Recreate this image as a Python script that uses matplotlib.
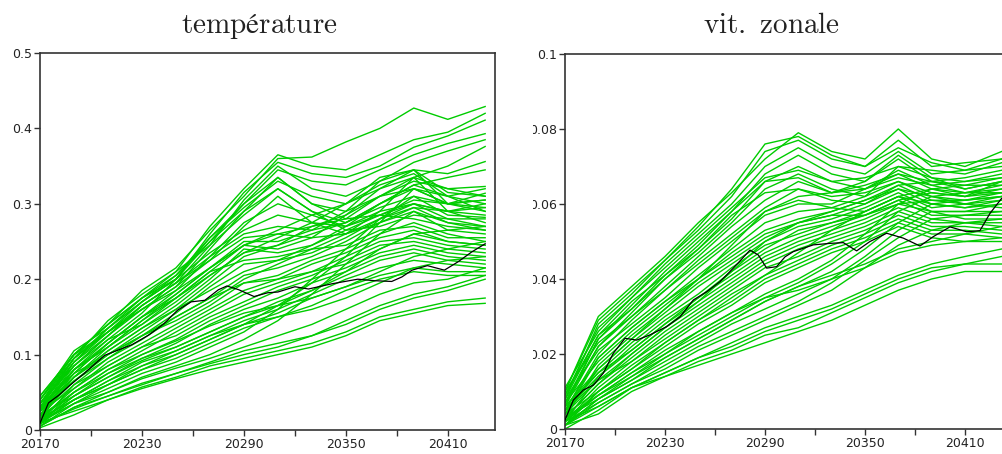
import matplotlib
matplotlib.use('Agg')
import matplotlib.pyplot as plt
from matplotlib.transforms import Bbox, TransformedBbox

plt.rcParams['mathtext.fontset'] = 'cm'
plt.rcParams['font.family'] = ['DejaVu Sans']

# ---------------- data ----------------
t_grid = [20170, 20190, 20210, 20230, 20250, 20270, 20290, 20310,
          20330, 20350, 20370, 20390, 20410, 20432]

x_major = [20170, 20230, 20290, 20350, 20410]
x_minor = [20200, 20260, 20320, 20380]

temp_yticks = [0.0, 0.1, 0.2, 0.3, 0.4, 0.5]
temp_ylabels = ['0', '0.1', '0.2', '0.3', '0.4', '0.5']
zonal_yticks = [0.0, 0.02, 0.04, 0.06, 0.08, 0.1]
zonal_ylabels = ['0', '0.02', '0.04', '0.06', '0.08', '0.1']

# ensemble members, temperature panel (values at t_grid)
temp_members = [
    [.035, .100, .140, .185, .215, .265, .310, .360, .362, .382, .400, .427, .412, .429],
    [.030, .095, .145, .180, .210, .270, .320, .365, .350, .345, .365, .385, .395, .420],
    [.040, .105, .135, .175, .200, .260, .315, .355, .340, .335, .350, .375, .390, .411],
    [.025, .090, .130, .170, .205, .250, .300, .345, .330, .325, .345, .365, .380, .393],
    [.035, .085, .125, .165, .195, .245, .305, .350, .320, .310, .330, .355, .370, .385],
    [.030, .095, .130, .160, .190, .240, .290, .335, .300, .290, .310, .335, .350, .376],
    [.020, .080, .120, .155, .200, .255, .295, .330, .310, .300, .320, .345, .340, .356],
    [.045, .100, .140, .175, .210, .245, .285, .320, .290, .275, .300, .325, .335, .345],
    [.030, .075, .115, .150, .185, .230, .275, .300, .285, .270, .290, .335, .320, .323],
    [.025, .085, .125, .165, .195, .225, .270, .310, .275, .260, .280, .310, .300, .314],
    [.030, .080, .110, .145, .180, .215, .250, .250, .265, .290, .330, .345, .300, .305],
    [.020, .075, .115, .150, .175, .210, .245, .240, .255, .285, .320, .335, .290, .300],
    [.035, .085, .120, .140, .170, .205, .235, .245, .270, .280, .310, .320, .300, .295],
    [.015, .070, .105, .135, .165, .200, .240, .235, .245, .270, .300, .325, .310, .290],
    [.025, .065, .100, .130, .160, .195, .230, .245, .260, .275, .295, .310, .285, .282],
    [.030, .080, .110, .140, .175, .210, .225, .230, .240, .260, .290, .300, .290, .275],
    [.010, .060, .095, .125, .155, .190, .220, .225, .235, .255, .280, .295, .275, .270],
    [.025, .070, .105, .135, .160, .185, .210, .225, .245, .265, .285, .280, .270, .265],
    [.020, .065, .095, .120, .150, .175, .205, .215, .230, .250, .275, .290, .265, .260],
    [.030, .075, .100, .125, .145, .170, .200, .220, .240, .245, .265, .270, .255, .255],
    [.015, .055, .090, .115, .140, .165, .195, .205, .225, .240, .260, .275, .260, .250],
    [.020, .060, .085, .110, .135, .160, .185, .200, .220, .235, .255, .265, .250, .245],
    [.010, .050, .080, .105, .130, .155, .180, .195, .210, .230, .250, .255, .245, .240],
    [.025, .055, .085, .110, .125, .150, .170, .190, .205, .225, .245, .250, .240, .235],
    [.015, .050, .075, .100, .120, .145, .165, .185, .200, .215, .235, .245, .235, .230],
    [.020, .045, .070, .095, .115, .140, .160, .175, .195, .210, .230, .240, .230, .225],
    [.010, .045, .075, .095, .110, .130, .150, .170, .185, .205, .225, .235, .225, .220],
    [.015, .040, .065, .090, .105, .125, .145, .160, .180, .200, .215, .225, .220, .215],
    [.005, .035, .060, .085, .100, .120, .140, .155, .175, .190, .205, .215, .210, .210],
    [.010, .040, .060, .080, .095, .115, .135, .150, .165, .185, .200, .210, .205, .205],
    [.010, .035, .055, .075, .090, .110, .130, .160, .200, .240, .280, .300, .280, .270],
    [.005, .030, .050, .070, .085, .100, .120, .145, .180, .220, .260, .290, .275, .265],
    [.015, .040, .060, .080, .100, .120, .140, .165, .195, .230, .275, .320, .300, .290],
    [.005, .030, .045, .060, .075, .090, .105, .115, .125, .140, .160, .175, .185, .200],
    [.010, .025, .040, .057, .070, .085, .095, .105, .115, .130, .150, .160, .170, .175],
    [.003, .020, .040, .055, .068, .080, .090, .100, .110, .125, .145, .155, .165, .168],
    [.008, .028, .045, .062, .075, .088, .100, .110, .125, .145, .165, .180, .190, .205],
    [.012, .035, .050, .068, .082, .095, .110, .125, .140, .160, .180, .195, .200, .215],
    [.035, .090, .125, .160, .185, .215, .245, .260, .270, .285, .310, .330, .320, .310],
    [.040, .095, .130, .165, .195, .230, .260, .270, .265, .275, .300, .320, .310, .320],
    [.030, .090, .135, .170, .200, .235, .265, .285, .275, .270, .285, .305, .300, .305],
    [.045, .100, .130, .160, .190, .225, .255, .260, .255, .260, .275, .295, .290, .295],
    [.040, .100, .140, .175, .205, .255, .300, .335, .300, .280, .285, .300, .290, .285],
    [.035, .095, .135, .170, .200, .250, .290, .320, .290, .265, .270, .285, .280, .280],
    [.025, .080, .115, .150, .180, .215, .245, .265, .285, .300, .325, .340, .310, .300],
    [.020, .070, .110, .145, .175, .205, .235, .255, .275, .300, .335, .345, .315, .310],
    [.012, .045, .070, .092, .110, .130, .150, .165, .185, .210, .240, .260, .250, .245],
    [.008, .040, .065, .085, .105, .125, .140, .150, .160, .175, .195, .215, .225, .230],
    [.018, .050, .080, .100, .118, .138, .155, .165, .175, .190, .210, .230, .240, .250],
    [.028, .070, .100, .125, .150, .175, .195, .200, .210, .220, .240, .260, .265, .270],
]

# reference (black) curve, temperature panel
temp_black_t = [20170, 20175, 20181, 20188, 20196, 20208, 20216, 20224, 20234, 20243,
                20251, 20259, 20267, 20275, 20280, 20287, 20296, 20304, 20310, 20320,
                20328, 20342, 20357, 20367, 20377, 20383, 20389, 20398, 20408, 20416,
                20424, 20432]
temp_black = [0.009, 0.036, 0.046, 0.060, 0.075, 0.099, 0.106, 0.113, 0.126, 0.141,
              0.159, 0.170, 0.172, 0.186, 0.191, 0.186, 0.177, 0.182, 0.183, 0.190,
              0.187, 0.194, 0.200, 0.198, 0.197, 0.203, 0.212, 0.218, 0.212, 0.223,
              0.236, 0.247]

# ensemble members, zonal velocity panel (values at t_grid)
zonal_members = [
    [.010, .030, .038, .046, .055, .063, .072, .079, .074, .072, .080, .072, .070, .074],
    [.008, .028, .036, .045, .053, .062, .074, .077, .072, .070, .077, .070, .071, .072],
    [.011, .026, .035, .044, .052, .060, .070, .075, .070, .068, .074, .068, .069, .070],
    [.006, .024, .033, .042, .050, .058, .068, .073, .068, .066, .072, .066, .067, .069],
    [.009, .025, .034, .041, .048, .056, .066, .070, .066, .064, .069, .065, .066, .068],
    [.007, .022, .031, .040, .047, .055, .064, .068, .064, .062, .070, .067, .064, .066],
    [.010, .023, .030, .038, .046, .054, .061, .066, .063, .065, .068, .064, .063, .065],
    [.005, .020, .029, .037, .045, .052, .059, .064, .062, .063, .066, .063, .062, .064],
    [.008, .021, .028, .035, .043, .050, .057, .060, .060, .064, .067, .065, .063, .063],
    [.004, .019, .027, .034, .041, .048, .055, .058, .059, .062, .066, .062, .061, .062],
    [.007, .018, .026, .033, .040, .047, .053, .056, .058, .061, .065, .061, .060, .061],
    [.003, .017, .025, .032, .039, .045, .051, .055, .057, .060, .064, .060, .059, .060],
    [.006, .016, .024, .031, .038, .044, .050, .054, .056, .059, .063, .059, .060, .059],
    [.005, .015, .023, .030, .036, .043, .049, .052, .055, .058, .062, .058, .058, .058],
    [.002, .014, .022, .029, .035, .041, .047, .051, .054, .057, .061, .057, .057, .057],
    [.006, .015, .021, .028, .034, .040, .046, .050, .053, .056, .060, .058, .056, .056],
    [.004, .013, .020, .027, .033, .039, .045, .049, .052, .055, .059, .056, .055, .055],
    [.003, .012, .019, .026, .032, .038, .044, .048, .051, .054, .058, .055, .055, .054],
    [.005, .013, .018, .025, .031, .037, .043, .046, .050, .053, .057, .054, .054, .053],
    [.002, .011, .018, .024, .030, .036, .041, .045, .049, .052, .056, .053, .053, .052],
    [.004, .010, .017, .023, .029, .034, .040, .044, .048, .051, .055, .052, .052, .051],
    [.001, .010, .016, .022, .028, .033, .039, .043, .047, .050, .054, .051, .050, .050],
    [.003, .009, .015, .021, .026, .031, .036, .040, .045, .052, .060, .064, .062, .066],
    [.002, .009, .014, .020, .025, .030, .035, .039, .044, .050, .058, .062, .063, .064],
    [.001, .008, .014, .019, .024, .029, .034, .038, .042, .048, .055, .060, .061, .062],
    [.003, .008, .013, .018, .023, .028, .032, .036, .040, .046, .053, .058, .058, .060],
    [.001, .007, .012, .017, .022, .026, .030, .034, .039, .045, .051, .056, .057, .058],
    [.002, .007, .012, .016, .021, .025, .029, .033, .037, .043, .049, .053, .055, .056],
    [.001, .006, .011, .015, .019, .023, .027, .030, .033, .037, .041, .044, .046, .048],
    [.000, .005, .011, .014, .018, .021, .025, .027, .031, .035, .039, .042, .044, .046],
    [.001, .004, .010, .014, .017, .020, .023, .026, .029, .033, .037, .040, .042, .042],
    [.002, .006, .011, .015, .019, .022, .026, .029, .032, .036, .040, .043, .044, .044],
    [.009, .027, .035, .043, .051, .059, .067, .069, .066, .067, .070, .069, .068, .071],
    [.008, .025, .032, .040, .048, .057, .063, .064, .061, .060, .065, .066, .065, .067],
    [.006, .022, .030, .037, .044, .051, .058, .061, .059, .058, .062, .064, .065, .065],
    [.005, .019, .027, .034, .040, .046, .052, .055, .057, .057, .061, .063, .062, .063],
    [.010, .029, .037, .045, .054, .064, .076, .078, .073, .070, .075, .071, .069, .072],
    [.007, .024, .032, .041, .049, .058, .066, .067, .063, .066, .073, .067, .066, .067],
    [.004, .016, .024, .032, .040, .049, .058, .062, .063, .064, .068, .066, .064, .066],
    [.003, .012, .020, .027, .034, .042, .050, .055, .058, .061, .064, .062, .060, .062],
    [.002, .010, .016, .023, .029, .035, .041, .047, .053, .058, .062, .060, .059, .061],
    [.001, .008, .013, .019, .024, .029, .034, .038, .041, .044, .048, .050, .052, .054],
    [.002, .009, .015, .020, .026, .031, .035, .037, .040, .043, .047, .049, .050, .051],
    [.005, .014, .021, .028, .035, .042, .048, .053, .055, .057, .060, .061, .061, .063],
]

# reference (black) curve, zonal velocity panel
zonal_black_t = [20170, 20175, 20181, 20187, 20193, 20199, 20206, 20213, 20221, 20231,
                 20239, 20247, 20255, 20263, 20271, 20281, 20286, 20291, 20297, 20302,
                 20307, 20319, 20329, 20337, 20345, 20353, 20363, 20373, 20383, 20391,
                 20401, 20411, 20419, 20425, 20432]
zonal_black = [0.0024, 0.0077, 0.0104, 0.0117, 0.0149, 0.0202, 0.0242, 0.0237, 0.0251,
               0.0273, 0.0299, 0.0344, 0.0366, 0.0393, 0.0429, 0.0477, 0.0464, 0.0429,
               0.0433, 0.0459, 0.0473, 0.0491, 0.0495, 0.0497, 0.0475, 0.0500, 0.0522,
               0.0509, 0.0488, 0.0513, 0.0539, 0.0526, 0.0529, 0.0575, 0.0615]

titles = [r'$\mathrm{température}$', r'$\mathrm{vit.\,\,zonale}$']

# ---------------- figure ----------------
W, H = 1002, 454
fig = plt.figure(figsize=(W / 100, H / 100), dpi=100)
fig.patch.set_facecolor('white')

ax1 = fig.add_axes([40 / W, 24 / H, 454.5 / W, 377 / H])
ax2 = fig.add_axes([565 / W, 25 / H, 445.8 / W, 375 / H])

GREEN = '#00cc00'


def style(ax, yticks, ylabels, ymax):
    ax.set_xlim(20170, 20437.5)
    ax.set_ylim(0, ymax)
    ax.set_xticks(x_major)
    ax.set_xticklabels([str(v) for v in x_major])
    ax.set_xticks(x_minor, minor=True)
    ax.set_yticks(yticks)
    ax.set_yticklabels(ylabels)
    ax.tick_params(which='both', direction='out', length=4, width=1.0,
                   color='#333333', labelsize=9, labelcolor='#222222')
    ax.tick_params(axis='x', pad=2)
    ax.tick_params(axis='y', pad=1.5)
    for s in ax.spines.values():
        s.set_color('#333333')
        s.set_linewidth(1.2)


for m in temp_members:
    ax1.plot(t_grid, m, color=GREEN, lw=1.0)
ax1.plot(temp_black_t, temp_black, color='black', lw=0.9, zorder=5)
style(ax1, temp_yticks, temp_ylabels, 0.5)

for m in zonal_members:
    ax2.plot(t_grid, m, color=GREEN, lw=1.0)
ax2.plot(zonal_black_t, zonal_black, color='black', lw=0.9, zorder=5)
style(ax2, zonal_yticks, zonal_ylabels, 0.1)

# right-panel y tick labels are cut on their left side in the reference
clip = TransformedBbox(Bbox([[533 / W, 0], [1, 1]]), fig.transFigure)
for lab in ax2.get_yticklabels():
    lab.set_clip_box(clip)
    lab.set_clip_on(True)

fig.text(259.5 / W, (H - 33) / H, titles[0], ha='center', va='baseline',
         fontsize=21, color='#222222')
fig.text(771 / W, (H - 33) / H, titles[1], ha='center', va='baseline',
         fontsize=21, color='#222222')

fig.savefig('out.png', dpi=100, facecolor='white')
